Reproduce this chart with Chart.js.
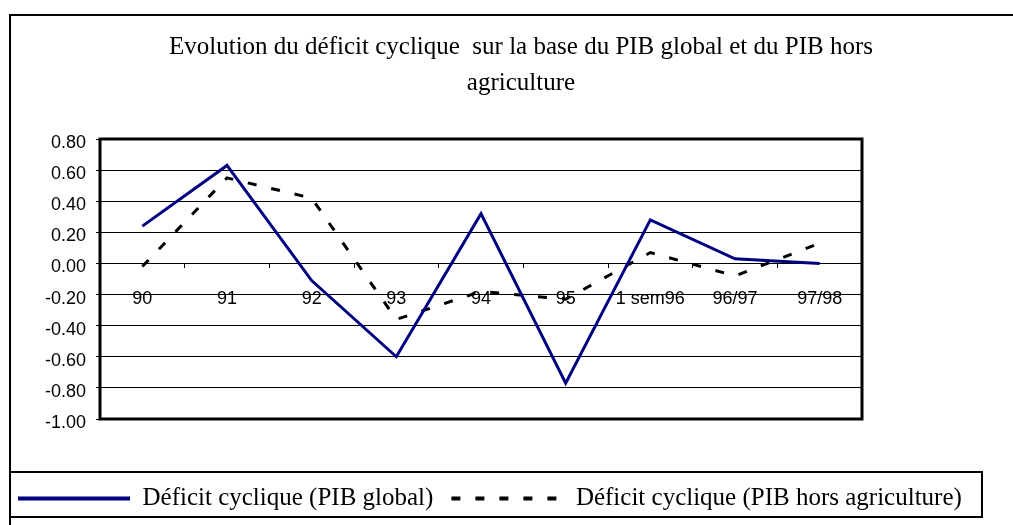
<!DOCTYPE html>
<html>
<head>
<meta charset="utf-8">
<script src="https://cdn.jsdelivr.net/npm/chart.js@4"></script>
<style>
  html, body { margin: 0; padding: 0; background: #fff; }
</style>
</head>
<body>
<canvas id="deficitChart" width="1013" height="525"></canvas>
<script>
// periods on the x axis
const periods = ['90', '91', '92', '93', '94', '95', '1 sem96', '96/97', '97/98'];

// cyclical deficit
const deficitGlobal = [0.24, 0.63, -0.11, -0.60, 0.32, -0.77, 0.28, 0.03, 0.00];
const deficitHorsAgri = [-0.02, 0.55, 0.42, -0.36, -0.18, -0.23, 0.07, -0.08, 0.13];

// y axis range and step
const yMin = -1.0;
const yMax = 0.8;
const yStep = 0.2;

const titleLines = [
    'Evolution du déficit cyclique  sur la base du PIB global et du PIB hors',
    'agriculture'
];
const seriesNames = [
    'Déficit cyclique (PIB global)',
    'Déficit cyclique (PIB hors agriculture)'
];

// draws the boxes round the plot, the legend and the whole chart
const framePlugin = {
    id: 'frame',
    afterLayout(chart) {
        // the original title sits a little right of the centre
        if (chart.titleBlock) {
            chart.titleBlock.left = 29;
        }
    },
    beforeDatasetsDraw(chart) {
        const ctx = chart.ctx;
        const a = chart.chartArea;
        ctx.save();
        ctx.strokeStyle = '#000';
        ctx.lineWidth = 3;
        ctx.strokeRect(a.left, a.top, a.right - a.left, a.bottom - a.top);
        ctx.restore();
    },
    afterDraw(chart) {
        const ctx = chart.ctx;
        ctx.save();
        ctx.strokeStyle = '#000';
        ctx.lineWidth = 2;
        // outer border, runs off the right and bottom edges
        ctx.beginPath();
        ctx.moveTo(10, 525);
        ctx.lineTo(10, 15);
        ctx.lineTo(1013, 15);
        ctx.stroke();
        // legend box
        ctx.strokeRect(10, 472, 972, 45);
        ctx.restore();
    }
};

const tickFont = { family: 'Liberation Sans', size: 18 };
const serifFont = { family: 'Liberation Serif', size: 25 };

// legend items with the dash pattern of each line
function legendLabels(chart) {
    const items = Chart.defaults.plugins.legend.labels.generateLabels(chart);
    items.forEach(item => {
        const ds = chart.data.datasets[item.datasetIndex];
        item.lineDash = ds.borderDash || [];
        item.lineWidth = 4;
        item.strokeStyle = ds.borderColor;
    });
    return items;
}

new Chart(document.getElementById('deficitChart'), {
    type: 'line',
    data: {
        labels: periods,
        datasets: [
            {
                label: seriesNames[0],
                data: deficitGlobal,
                borderColor: '#000080',
                backgroundColor: '#000080',
                borderWidth: 3,
                pointRadius: 0,
                tension: 0
            },
            {
                label: seriesNames[1],
                data: deficitHorsAgri,
                borderColor: '#000',
                backgroundColor: '#000',
                borderWidth: 3,
                borderDash: [9, 15],
                pointRadius: 0,
                tension: 0
            }
        ]
    },
    options: {
        responsive: false,
        animation: false,
        layout: { padding: { top: 0, left: 0, right: 0, bottom: 4 } },
        plugins: {
            title: {
                display: true,
                text: titleLines,
                color: '#000',
                font: { family: 'Liberation Serif', size: 25, weight: 'normal', lineHeight: 1.44 },
                padding: { top: 29, bottom: 38 }
            },
            legend: {
                position: 'bottom',
                align: 'start',
                labels: {
                    usePointStyle: true,
                    pointStyle: 'line',
                    pointStyleWidth: 112,
                    padding: 18,
                    color: '#000',
                    font: serifFont,
                    generateLabels: legendLabels
                }
            },
            tooltip: { enabled: false }
        },
        scales: {
            x: {
                type: 'category',
                position: { y: 0 },
                offset: true,
                grid: {
                    display: true,
                    offset: true,
                    drawOnChartArea: false,
                    drawTicks: true,
                    tickLength: 5,
                    color: '#000'
                },
                border: { display: false },
                ticks: {
                    color: '#000',
                    font: tickFont,
                    padding: 20,
                    maxRotation: 0,
                    autoSkip: false
                }
            },
            y: {
                position: 'left',
                min: yMin,
                max: yMax,
                afterFit(scale) { scale.width = 100; },
                grid: { color: '#000', lineWidth: 1, tickLength: 4 },
                border: { display: false },
                ticks: {
                    stepSize: yStep,
                    color: '#000',
                    font: tickFont,
                    padding: 10,
                    labelOffset: 4,
                    callback: v => (Math.abs(v) < 1e-9 ? 0 : v).toFixed(2)
                }
            },
            // empty axes that only keep room below and right of the plot
            padBottom: {
                axis: 'x',
                type: 'linear',
                position: 'bottom',
                grid: { display: false },
                border: { display: false },
                ticks: { display: false },
                afterFit(scale) { scale.height = 49; }
            },
            padRight: {
                axis: 'y',
                type: 'linear',
                position: 'right',
                grid: { display: false },
                border: { display: false },
                ticks: { display: false },
                afterFit(scale) { scale.width = 151; }
            }
        }
    },
    plugins: [framePlugin]
});
</script>
</body>
</html>
